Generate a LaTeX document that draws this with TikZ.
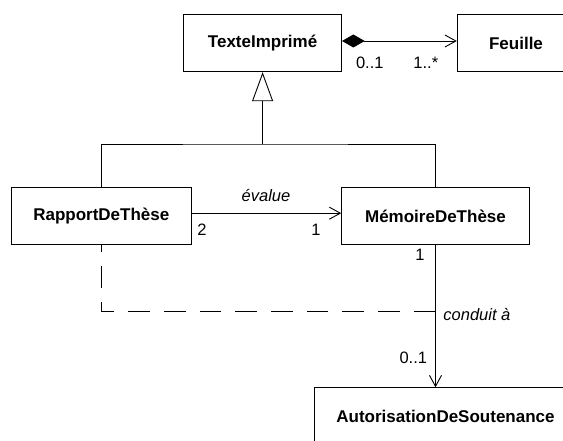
\documentclass[tikz,border=0pt]{standalone}
\usepackage{fontspec}
\setmainfont{Liberation Sans}
\usetikzlibrary{arrows.meta}

\begin{document}
\begin{tikzpicture}[x=1pt,y=-1pt,line width=0.9pt,
  cls/.style={draw,minimum height=57.5pt,inner sep=0pt,font=\fontsize{17}{20}\selectfont\bfseries},
  lbl/.style={inner sep=0pt,font=\fontsize{16.5}{19}\selectfont},
  lbl_it/.style={inner sep=0pt,font=\fontsize{16.5}{19}\selectfont\itshape},
  opn/.style={-{Straight Barb[length=11pt,width=12pt]}}]
\useasboundingbox (0,0) rectangle (563,441);
\clip (0,0) rectangle (563,441);
% classes
\node[cls,minimum width=158pt] (c_texte) at (262.6,43) {TexteImprimé};
\node[cls,minimum width=117.4pt] (c_feuille) at (516,43) {Feuille};
\node[cls,minimum width=180.7pt] (c_rapport) at (101.3,216.2) {RapportDeThèse};
\node[cls,minimum width=187.6pt] (c_memoire) at (435.5,216.2) {MémoireDeThèse};
\node[cls,minimum width=263pt] (c_auto) at (445.5,416.5) {AutorisationDeSoutenance};
% composition
\draw[{Diamond[length=22.6pt,width=13pt]}-{Straight Barb[length=11pt,width=12pt]}] ([yshift=2pt]c_texte.east)--([yshift=2pt]c_feuille.west);
\node[lbl] (m_comp0) at (369.8,62.7) {0..1};
\node[lbl] (m_comp1) at (425.8,62.7) {1..*};
% generalisation
\coordinate (g_join) at (262.6,144);
\draw (c_rapport.north) |- (g_join) -| (c_memoire.north);
\draw[-{Triangle[open,length=29pt,width=21pt]}] (g_join)--(c_texte.south);
% evalue
\draw[opn] ([yshift=3pt]c_rapport.east)--([yshift=3pt]c_memoire.west);
\node[lbl_it] (l_evalue) at (266,195.7) {évalue};
\node[lbl] (m_ev2) at (202,230) {2};
\node[lbl] (m_ev1) at (316,230) {1};
% conduit a
\draw[opn] (c_memoire.south)--(c_memoire.south |- c_auto.north);
\node[lbl] (m_cd1) at (420,255) {1};
\node[lbl_it,anchor=west] (l_conduit) at (443,315) {conduit à};
\node[lbl] (m_cd01) at (413.3,358) {0..1};
\coordinate (d_corner) at (101.3,311);
\draw[dash pattern=on 21.7pt off 14pt] (c_memoire.south |- d_corner)--(d_corner)--(c_rapport.south);
\end{tikzpicture}
\end{document}
